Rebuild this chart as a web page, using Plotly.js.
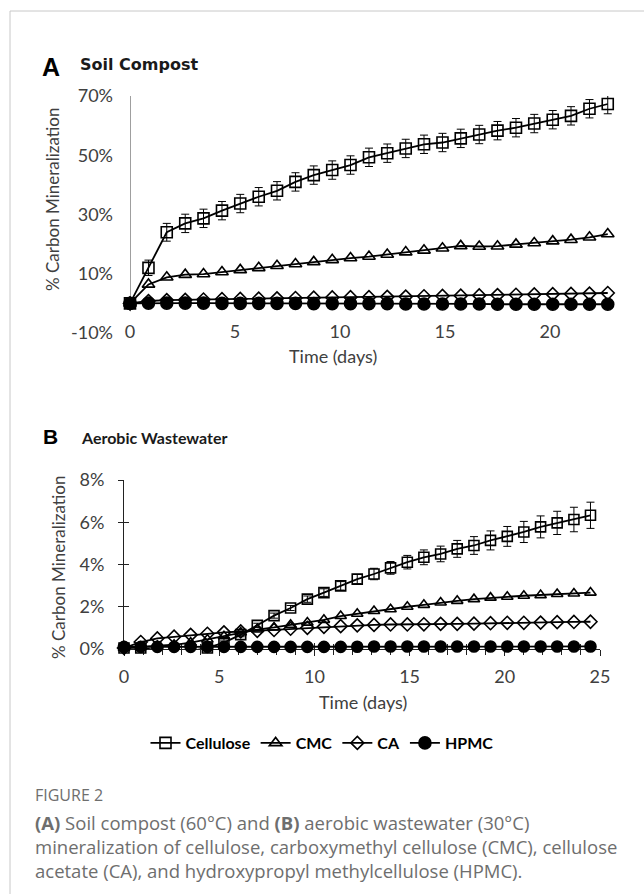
<!DOCTYPE html>
<html>
<head>
<meta charset="utf-8">
<script src="https://cdn.plot.ly/plotly-3.0.1.min.js"></script>
<style>
html,body{margin:0;padding:0;background:#fff;}
#chart{width:644px;height:894px;}
</style>
</head>
<body>
<div id="chart"></div>
<script>
// ---------- Data ----------
// Panel A: Soil compost, time in days
var timeA = [0, 0.88, 1.75, 2.63, 3.5, 4.38, 5.25, 6.13, 7, 7.88, 8.75, 9.63, 10.5, 11.38, 12.25, 13.13, 14, 14.88, 15.75, 16.63, 17.5, 18.38, 19.25, 20.13, 21, 21.88, 22.75];
var celluloseA = [0, 12, 24, 27, 28.7, 31.3, 33.7, 36, 38, 41, 43.3, 45, 46.7, 49.3, 50.7, 52.3, 53.7, 54.3, 55.7, 57, 58.3, 59.3, 60.7, 62, 63.3, 65.7, 67.3];
var celluloseAErr = [0.3, 2.6, 3, 3.1, 3.1, 3.1, 3.1, 3.1, 3.1, 3.1, 3.1, 3.1, 3.1, 3.1, 3.1, 3.1, 3.1, 3.1, 3.1, 3.1, 3.1, 3.1, 3.1, 3.1, 3.1, 3.1, 3.3];
var cmcA = [0, 6.4, 8.8, 9.7, 9.9, 10.6, 11.3, 12.0, 12.7, 13.3, 14.0, 14.7, 15.3, 15.8, 16.5, 17.3, 17.9, 18.6, 19.4, 19.2, 19.3, 19.9, 20.4, 21.0, 21.5, 22.3, 23.4];
var caA = [0, 0.8, 1.1, 1.2, 1.3, 1.4, 1.5, 1.6, 1.7, 1.8, 1.9, 2.0, 2.1, 2.1, 2.2, 2.3, 2.4, 2.5, 2.6, 2.7, 2.8, 2.9, 3.0, 3.1, 3.2, 3.3, 3.5];
var hpmcA = [0, 0.1, 0.1, 0.1, 0.1, 0, 0, 0, 0, 0, -0.1, -0.1, -0.1, -0.1, -0.1, -0.2, -0.2, -0.2, -0.2, -0.2, -0.3, -0.3, -0.3, -0.3, -0.3, -0.3, -0.3];

// Panel B: Aerobic wastewater, time in days
var timeB = [0, 0.88, 1.75, 2.63, 3.5, 4.38, 5.25, 6.13, 7, 7.88, 8.75, 9.63, 10.5, 11.38, 12.25, 13.13, 14, 14.88, 15.75, 16.63, 17.5, 18.38, 19.25, 20.13, 21, 21.88, 22.75, 23.63, 24.5];
var celluloseB = [0.05, 0.05, -0.05, -0.1, -0.1, 0.05, 0.3, 0.68, 1.12, 1.58, 1.94, 2.36, 2.67, 2.99, 3.31, 3.55, 3.84, 4.11, 4.34, 4.50, 4.74, 4.90, 5.14, 5.33, 5.54, 5.78, 5.97, 6.13, 6.33];
var celluloseBErr = [0.05, 0.05, 0.05, 0.05, 0.05, 0.05, 0.08, 0.1, 0.1, 0.12, 0.12, 0.15, 0.18, 0.2, 0.22, 0.27, 0.3, 0.32, 0.35, 0.37, 0.4, 0.42, 0.45, 0.47, 0.5, 0.52, 0.55, 0.58, 0.62];
var cmcB = [0.05, 0.1, 0.15, 0.2, 0.3, 0.45, 0.6, 0.78, 0.92, 1.02, 1.15, 1.25, 1.38, 1.56, 1.67, 1.80, 1.88, 2.0, 2.09, 2.2, 2.28, 2.36, 2.43, 2.47, 2.52, 2.55, 2.6, 2.63, 2.67];
var caB = [0.05, 0.33, 0.5, 0.58, 0.67, 0.72, 0.79, 0.83, 0.86, 0.9, 0.96, 1.0, 1.05, 1.08, 1.12, 1.14, 1.16, 1.16, 1.17, 1.19, 1.19, 1.2, 1.22, 1.24, 1.24, 1.25, 1.27, 1.28, 1.29];
var hpmcB = [0.1, 0.1, 0.1, 0.1, 0.1, 0.1, 0.1, 0.1, 0.1, 0.1, 0.1, 0.1, 0.1, 0.1, 0.11, 0.12, 0.12, 0.12, 0.12, 0.12, 0.12, 0.12, 0.12, 0.12, 0.12, 0.12, 0.12, 0.12, 0.12];

var seriesNames = ['Cellulose', 'CMC', 'CA', 'HPMC'];
var tickAy = [-10, 10, 30, 50, 70];
var tickAyText = ['-10%', '10%', '30%', '50%', '70%'];
var tickAx = [0, 5, 10, 15, 20];
var tickBy = [0, 2, 4, 6, 8];
var tickByText = ['0%', '2%', '4%', '6%', '8%'];
var tickBx = [0, 5, 10, 15, 20, 25];

// ---------- Helpers ----------
var W = 644, H = 894;
function px(x) { return x / W; }
function py(y) { return 1 - y / H; }
var TXT = '#404040';
var chartFont = 'Lato, "Open Sans", sans-serif';

var symbols = ['square-open', 'triangle-up-open', 'diamond-open', 'circle'];
var sizesA = [11, 11, 10, 12];
var sizesB = [10, 10, 10, 11];

function mk(x, y, i, axes, size, err, showlegend) {
  var t = {
    type: 'scatter', mode: 'lines+markers',
    x: x, y: y, name: seriesNames[i],
    xaxis: axes[0], yaxis: axes[1],
    line: {color: '#000', width: 1.8},
    marker: {symbol: symbols[i], size: size, color: '#000', line: {color: '#000', width: 1.6}},
    showlegend: showlegend,
    cliponaxis: false
  };
  if (err) {
    t.error_y = {type: 'data', array: err, visible: true, color: '#000', thickness: 1, width: 4};
  }
  return t;
}

var data = [
  mk(timeA, celluloseA, 0, ['x', 'y'], sizesA[0], celluloseAErr, true),
  mk(timeA, cmcA, 1, ['x', 'y'], sizesA[1], null, true),
  mk(timeA, caA, 2, ['x', 'y'], sizesA[2], null, true),
  mk(timeA, hpmcA, 3, ['x', 'y'], sizesA[3], null, true),
  mk(timeB, celluloseB, 0, ['x2', 'y2'], sizesB[0], celluloseBErr, false),
  mk(timeB, cmcB, 1, ['x2', 'y2'], sizesB[1], null, false),
  mk(timeB, caB, 2, ['x2', 'y2'], sizesB[2], null, false),
  mk(timeB, hpmcB, 3, ['x2', 'y2'], sizesB[3], null, false),
  {type: 'scatter', mode: 'markers', x: [null], y: [null], xaxis: 'x3', yaxis: 'y3', showlegend: false, hoverinfo: 'skip'}
];

var tickFont = {family: chartFont, size: 18, color: TXT};

var layout = {
  width: W, height: H,
  margin: {l: 0, r: 0, t: 0, b: 0},
  paper_bgcolor: '#fff', plot_bgcolor: 'rgba(0,0,0,0)',
  showlegend: true,
  xaxis: {
    domain: [px(130), px(613)], range: [0, 23], anchor: 'y',
    showline: false, showgrid: false, zeroline: false,
    tickvals: tickAx, ticks: '', tickfont: tickFont,
    ticklabelstandoff: -14
  },
  yaxis: {
    domain: [py(333), py(96)], range: [-10, 70], anchor: 'x',
    showline: false, showgrid: false, zeroline: false,
    tickvals: tickAy, ticktext: tickAyText, ticks: '', tickfont: tickFont,
    ticklabelstandoff: 16
  },
  xaxis2: {
    domain: [px(124), px(600)], range: [0, 25], anchor: 'y2',
    showline: true, linecolor: '#222', linewidth: 1,
    showgrid: false, zeroline: false,
    tickvals: tickBx, ticks: 'outside', ticklen: 6, tickcolor: '#222', tickwidth: 1,
    minor: {dtick: 1, ticks: 'outside', ticklen: 5, tickcolor: '#222', tickwidth: 1},
    tickfont: tickFont, ticklabelstandoff: 5, layer: 'below traces'
  },
  yaxis2: {
    domain: [py(649), py(480)], range: [0, 8], anchor: 'x2',
    showline: true, linecolor: '#222', linewidth: 1,
    showgrid: false, zeroline: false,
    tickvals: tickBy, ticktext: tickByText, ticks: 'outside', ticklen: 5, tickcolor: '#222', tickwidth: 1,
    tickfont: tickFont, ticklabelstandoff: 10, layer: 'below traces'
  },
  xaxis3: {
    overlaying: 'x2', anchor: 'y3', range: [0, 25],
    showline: false, showgrid: false, zeroline: false, showticklabels: false,
    tickvals: tickBx, ticks: 'inside', ticklen: 6, tickcolor: '#222', tickwidth: 1,
    minor: {dtick: 1, ticks: 'inside', ticklen: 5, tickcolor: '#222', tickwidth: 1},
    layer: 'below traces'
  },
  yaxis3: {
    overlaying: 'y2', anchor: 'x3', range: [0, 8],
    showline: false, showgrid: false, zeroline: false, showticklabels: false,
    tickvals: tickBy, ticks: 'inside', ticklen: 5, tickcolor: '#222', tickwidth: 1,
    layer: 'below traces'
  },
  legend: {
    orientation: 'h', x: 0.5, xanchor: 'center', y: py(743), yanchor: 'middle',
    font: {family: chartFont, size: 16, color: '#000', weight: 'bold'},
    itemwidth: 30, tracegroupgap: 0, bgcolor: 'rgba(0,0,0,0)'
  },
  shapes: [
    {type: 'line', xref: 'paper', yref: 'paper', x0: px(10), x1: px(10), y0: 0, y1: py(11), line: {color: '#c8c8c8', width: 1}},
    {type: 'line', xref: 'paper', yref: 'paper', x0: px(10), x1: 1, y0: py(11), y1: py(11), line: {color: '#c8c8c8', width: 1}},
    {type: 'line', xref: 'x', yref: 'y', x0: 0, x1: 0, y0: -2.7, y1: 70, line: {color: '#404040', width: 1}, layer: 'below'}
  ],
  annotations: [
    {text: '<b>A</b>', xref: 'paper', yref: 'paper', x: px(40), y: py(67), xanchor: 'left', yanchor: 'middle', showarrow: false,
     font: {family: '"Liberation Sans", Arial, sans-serif', size: 25, color: '#000'}},
    {text: '<b>Soil Compost</b>', xref: 'paper', yref: 'paper', x: px(78), y: py(65), xanchor: 'left', yanchor: 'middle', showarrow: false,
     font: {family: '"DejaVu Sans", sans-serif', size: 16, color: '#1a1a1a'}},
    {text: '<b>B</b>', xref: 'paper', yref: 'paper', x: px(41), y: py(436), xanchor: 'left', yanchor: 'middle', showarrow: false,
     font: {family: '"Liberation Sans", Arial, sans-serif', size: 21, color: '#000'}},
    {text: '<b>Aerobic Wastewater</b>', xref: 'paper', yref: 'paper', x: px(79), y: py(437), xanchor: 'left', yanchor: 'middle', showarrow: false,
     font: {family: chartFont, size: 16, color: '#1a1a1a'}},
    {text: '% Carbon Mineralization', xref: 'paper', yref: 'paper', x: px(52), y: py(200), xanchor: 'center', yanchor: 'middle', textangle: -90, showarrow: false,
     font: {family: chartFont, size: 17, color: TXT}},
    {text: '% Carbon Mineralization', xref: 'paper', yref: 'paper', x: px(58), y: py(568), xanchor: 'center', yanchor: 'middle', textangle: -90, showarrow: false,
     font: {family: chartFont, size: 17, color: TXT}},
    {text: 'Time (days)', xref: 'paper', yref: 'paper', x: px(333), y: py(356), xanchor: 'center', yanchor: 'middle', showarrow: false,
     font: {family: chartFont, size: 18, color: TXT}},
    {text: 'Time (days)', xref: 'paper', yref: 'paper', x: px(363), y: py(702), xanchor: 'center', yanchor: 'middle', showarrow: false,
     font: {family: chartFont, size: 18, color: TXT}},
    {text: 'FIGURE 2', xref: 'paper', yref: 'paper', x: px(33), y: py(795), xanchor: 'left', yanchor: 'middle', showarrow: false,
     font: {family: '"Open Sans", sans-serif', size: 16, color: '#6e6e6e'}},
    {text: '<b>(A)</b> Soil compost (60°C) and <b>(B)</b> aerobic wastewater (30°C)', xref: 'paper', yref: 'paper', x: px(33), y: py(822), xanchor: 'left', yanchor: 'middle', showarrow: false,
     font: {family: '"Open Sans", sans-serif', size: 18.5, color: '#6e6e6e'}},
    {text: 'mineralization of cellulose, carboxymethyl cellulose (CMC), cellulose', xref: 'paper', yref: 'paper', x: px(33), y: py(846), xanchor: 'left', yanchor: 'middle', showarrow: false,
     font: {family: '"Open Sans", sans-serif', size: 18.5, color: '#6e6e6e'}},
    {text: 'acetate (CA), and hydroxypropyl methylcellulose (HPMC).', xref: 'paper', yref: 'paper', x: px(33), y: py(870), xanchor: 'left', yanchor: 'middle', showarrow: false,
     font: {family: '"Open Sans", sans-serif', size: 18.5, color: '#6e6e6e'}}
  ]
};

Plotly.newPlot('chart', data, layout, {displayModeBar: false, staticPlot: true});
</script>
</body>
</html>
